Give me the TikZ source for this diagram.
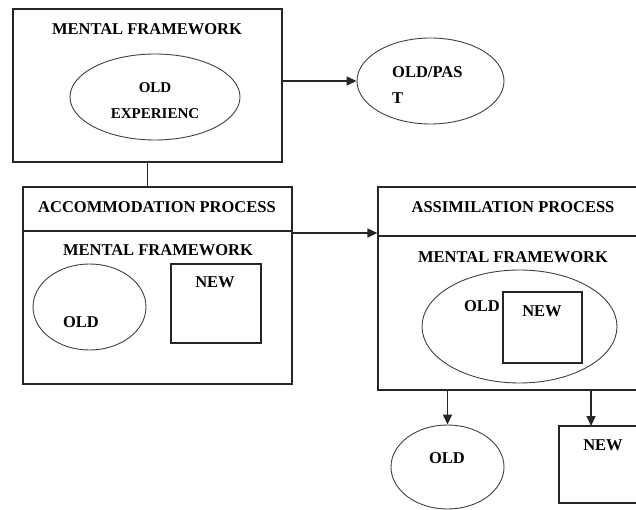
\documentclass[tikz,border=0pt]{standalone}
\usepackage{fontspec}
\setmainfont{Liberation Serif}
\usetikzlibrary{shapes.geometric,arrows.meta}
\begin{document}
\begin{tikzpicture}[x=1pt,y=-1pt,
  box/.style={draw=black!85,line width=1.3pt,rectangle,inner sep=0pt},
  ell/.style={draw=black!75,line width=0.9pt,ellipse,inner sep=0pt},
  lbl/.style={font=\bfseries\fontsize{16.5}{19}\selectfont,inner sep=0pt,text=black},
  sml/.style={font=\bfseries\fontsize{15}{18}\selectfont,inner sep=0pt,text=black},
  lnk/.style={line width=1.3pt,draw=black!85},
  arr/.style={lnk,-{Triangle[length=10pt,width=9pt]}}]
\useasboundingbox (0,0) rectangle (636,510);
\clip (0,0) rectangle (636,510);
\fill[white] (0,0) rectangle (636,510);

% top mental framework
\node[box,minimum width=269pt,minimum height=153pt] (top) at (147.5,85.5) {};
\node[lbl] (toptitle) at (147,29) {MENTAL FRAMEWORK};
\node[ell,minimum width=170pt,minimum height=86pt] (oldexp) at (155,97) {};
\node[sml] (oldexpA) at (155,88) {OLD};
\node[sml] (oldexpB) at (155,114) {EXPERIENC};

% old/past
\node[ell,minimum width=147pt,minimum height=86pt] (past) at (430.5,81) {};
\node[lbl,anchor=west] (pastA) at (392,72) {OLD/PAS};
\node[lbl,anchor=west] (pastB) at (392,98) {T};
\draw[arr] (top.east |- past.west) -- (past.west);

% accommodation
\node[box,minimum width=269pt,minimum height=197pt] (acc) at (157.5,285.5) {};
\draw[lnk] (top.south) -- (acc.north -| top.south);
\coordinate (accdivL) at (23,231);
\coordinate (accdivR) at (292,231);
\draw[lnk] (accdivL) -- (accdivR);
\node[lbl] (acctitle) at (157,207) {ACCOMMODATION PROCESS};
\node[lbl] (accmf) at (158,250) {MENTAL FRAMEWORK};
\node[ell,minimum width=113pt,minimum height=86pt] (accold) at (89.5,307) {};
\node[lbl] (accoldt) at (81,322) {OLD};
\node[box,minimum width=90pt,minimum height=79pt] (accnew) at (216,303.5) {};
\node[lbl] (accnewt) at (215,282) {NEW};

% assimilation
\node[box,minimum width=272pt,minimum height=203pt] (asm) at (514,288.5) {};
\coordinate (asmdivL) at (378,236);
\coordinate (asmdivR) at (650,236);
\draw[lnk] (asmdivL) -- (asmdivR);
\coordinate (accout) at (292,233);
\draw[arr] (accout) -- (asm.west |- accout);
\node[lbl] (asmtitle) at (513,207) {ASSIMILATION PROCESS};
\node[lbl] (asmmf) at (513,257) {MENTAL FRAMEWORK};
\node[ell,minimum width=195pt,minimum height=113pt] (asmold) at (519.5,326.5) {};
\node[lbl] (asmoldt) at (482,306) {OLD};
\node[box,minimum width=79pt,minimum height=71pt] (asmnew) at (542.5,327.5) {};
\node[lbl] (asmnewt) at (542,311) {NEW};

% outputs
\node[ell,minimum width=113pt,minimum height=84pt] (outold) at (447.5,467) {};
\node[lbl] (outoldt) at (447,458) {OLD};
\node[box,minimum width=90pt,minimum height=77pt] (outnew) at (604,464.5) {};
\node[lbl] (outnewt) at (603,445) {NEW};
\draw[arr] (asm.south -| outold.north) -- (outold.north);
\coordinate (outnewtop) at (591,426);
\draw[arr] (asm.south -| outnewtop) -- (outnewtop);
\end{tikzpicture}
\end{document}
